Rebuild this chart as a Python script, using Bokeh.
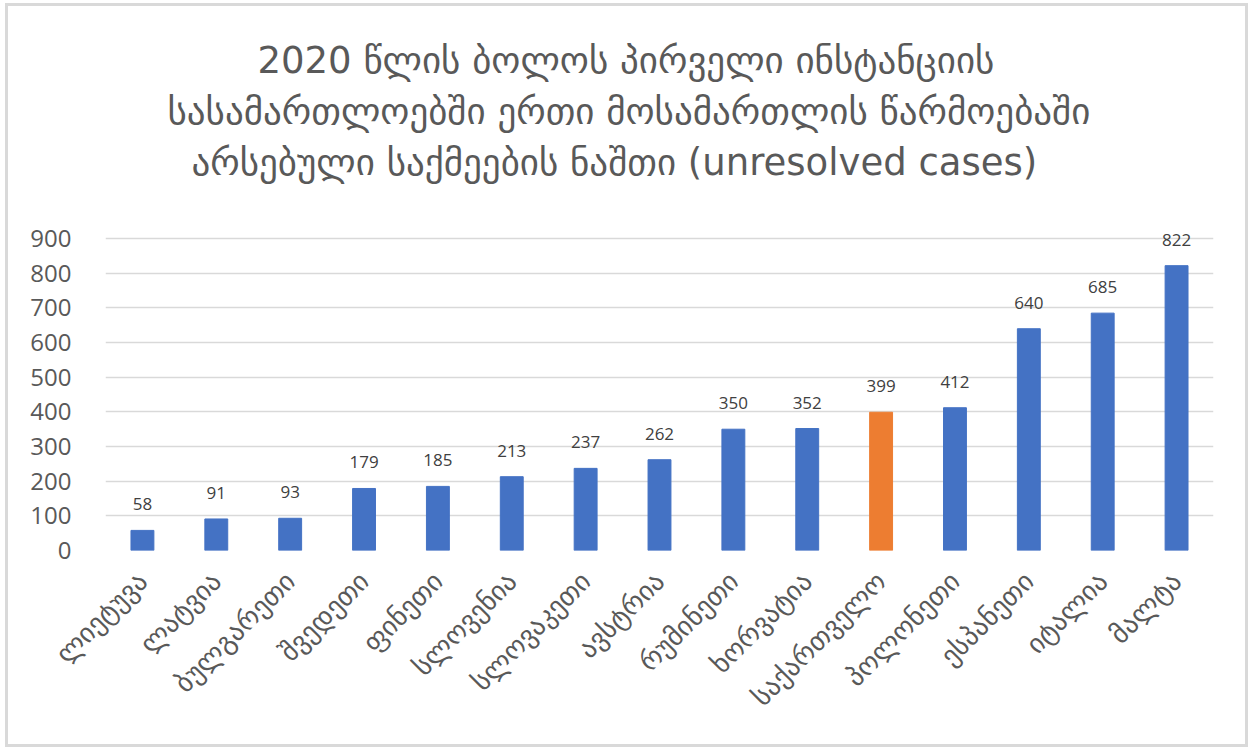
import math
from bokeh.plotting import figure
from bokeh.models import ColumnDataSource, FixedTicker, LabelSet, Title
from bokeh.core.properties import value
from bokeh.embed import file_html
from bokeh.resources import INLINE

countries = ["ლიეტუვა", "ლატვია", "ბულგარეთი", "შვედეთი", "ფინეთი", "სლოვენია",
             "სლოვაკეთი", "ავსტრია", "რუმინეთი", "ხორვატია", "საქართველო",
             "პოლონეთი", "ესპანეთი", "იტალია", "მალტა"]
cases = [58, 91, 93, 179, 185, 213, 237, 262, 350, 352, 399, 412, 640, 685, 822]
highlight = "საქართველო"
y_ticks = [0, 100, 200, 300, 400, 500, 600, 700, 800, 900]
title_lines = ["2020 წლის ბოლოს პირველი ინსტანციის",
               "სასამართლოებში ერთი მოსამართლის წარმოებაში",
               "არსებული საქმეების ნაშთი (unresolved cases)"]
title_indents = [152, 62, 86]

colors = ["#ED7D31" if c == highlight else "#4472C4" for c in countries]
src = ColumnDataSource(dict(country=countries, cases=cases, color=colors,
                            label=[str(v) for v in cases]))

p = figure(x_range=countries, y_range=(0, 935), width=1243, height=744,
           output_backend="svg", toolbar_location=None, title=None,
           min_border_left=97, min_border_right=38, min_border_top=220,
           min_border_bottom=200)
p.margin = (3, 0, 0, 5)
p.styles = {"border": "3px solid #D9D9D9"}

# spacer between the plot and the title block
p.add_layout(Title(text=" ", text_font_size="29px", standoff=6), "above")
# add from the line nearest the plot outward
for line, indent in reversed(list(zip(title_lines, title_indents))):
    t = Title(text=line, align="left", offset=indent, text_font="DejaVu Sans",
              text_font_size="37px", text_font_style="normal",
              text_color="#595959", standoff=6)
    p.add_layout(t, "above")

p.vbar(x="country", top="cases", width=0.31, color="color", source=src)

labels = LabelSet(x="country", y="cases", text="label", source=src,
                  text_align="center", text_baseline="bottom", y_offset=20,
                  text_font=value("Open Sans"), text_font_size="17px",
                  text_color="#404040")
p.add_layout(labels)

p.outline_line_color = None
p.xgrid.grid_line_color = None
p.ygrid.grid_line_color = "#D9D9D9"
p.ygrid.grid_line_width = 1.5
p.yaxis.ticker = FixedTicker(ticks=y_ticks)

for ax in (p.xaxis, p.yaxis):
    ax.axis_line_color = None
    ax.major_tick_line_color = None
    ax.minor_tick_line_color = None
    ax.major_label_text_color = "#595959"

p.yaxis.major_label_text_font = "Open Sans"
p.yaxis.major_label_text_font_size = "24px"
p.yaxis.major_label_standoff = 28
p.xaxis.major_label_text_font = "DejaVu Sans"
p.xaxis.major_label_text_font_size = "27px"
p.xaxis.major_label_orientation = math.pi / 4
p.xaxis.major_label_standoff = 20
p.x_range.range_padding = 0

open("out.html", "w").write(file_html(p, INLINE))
